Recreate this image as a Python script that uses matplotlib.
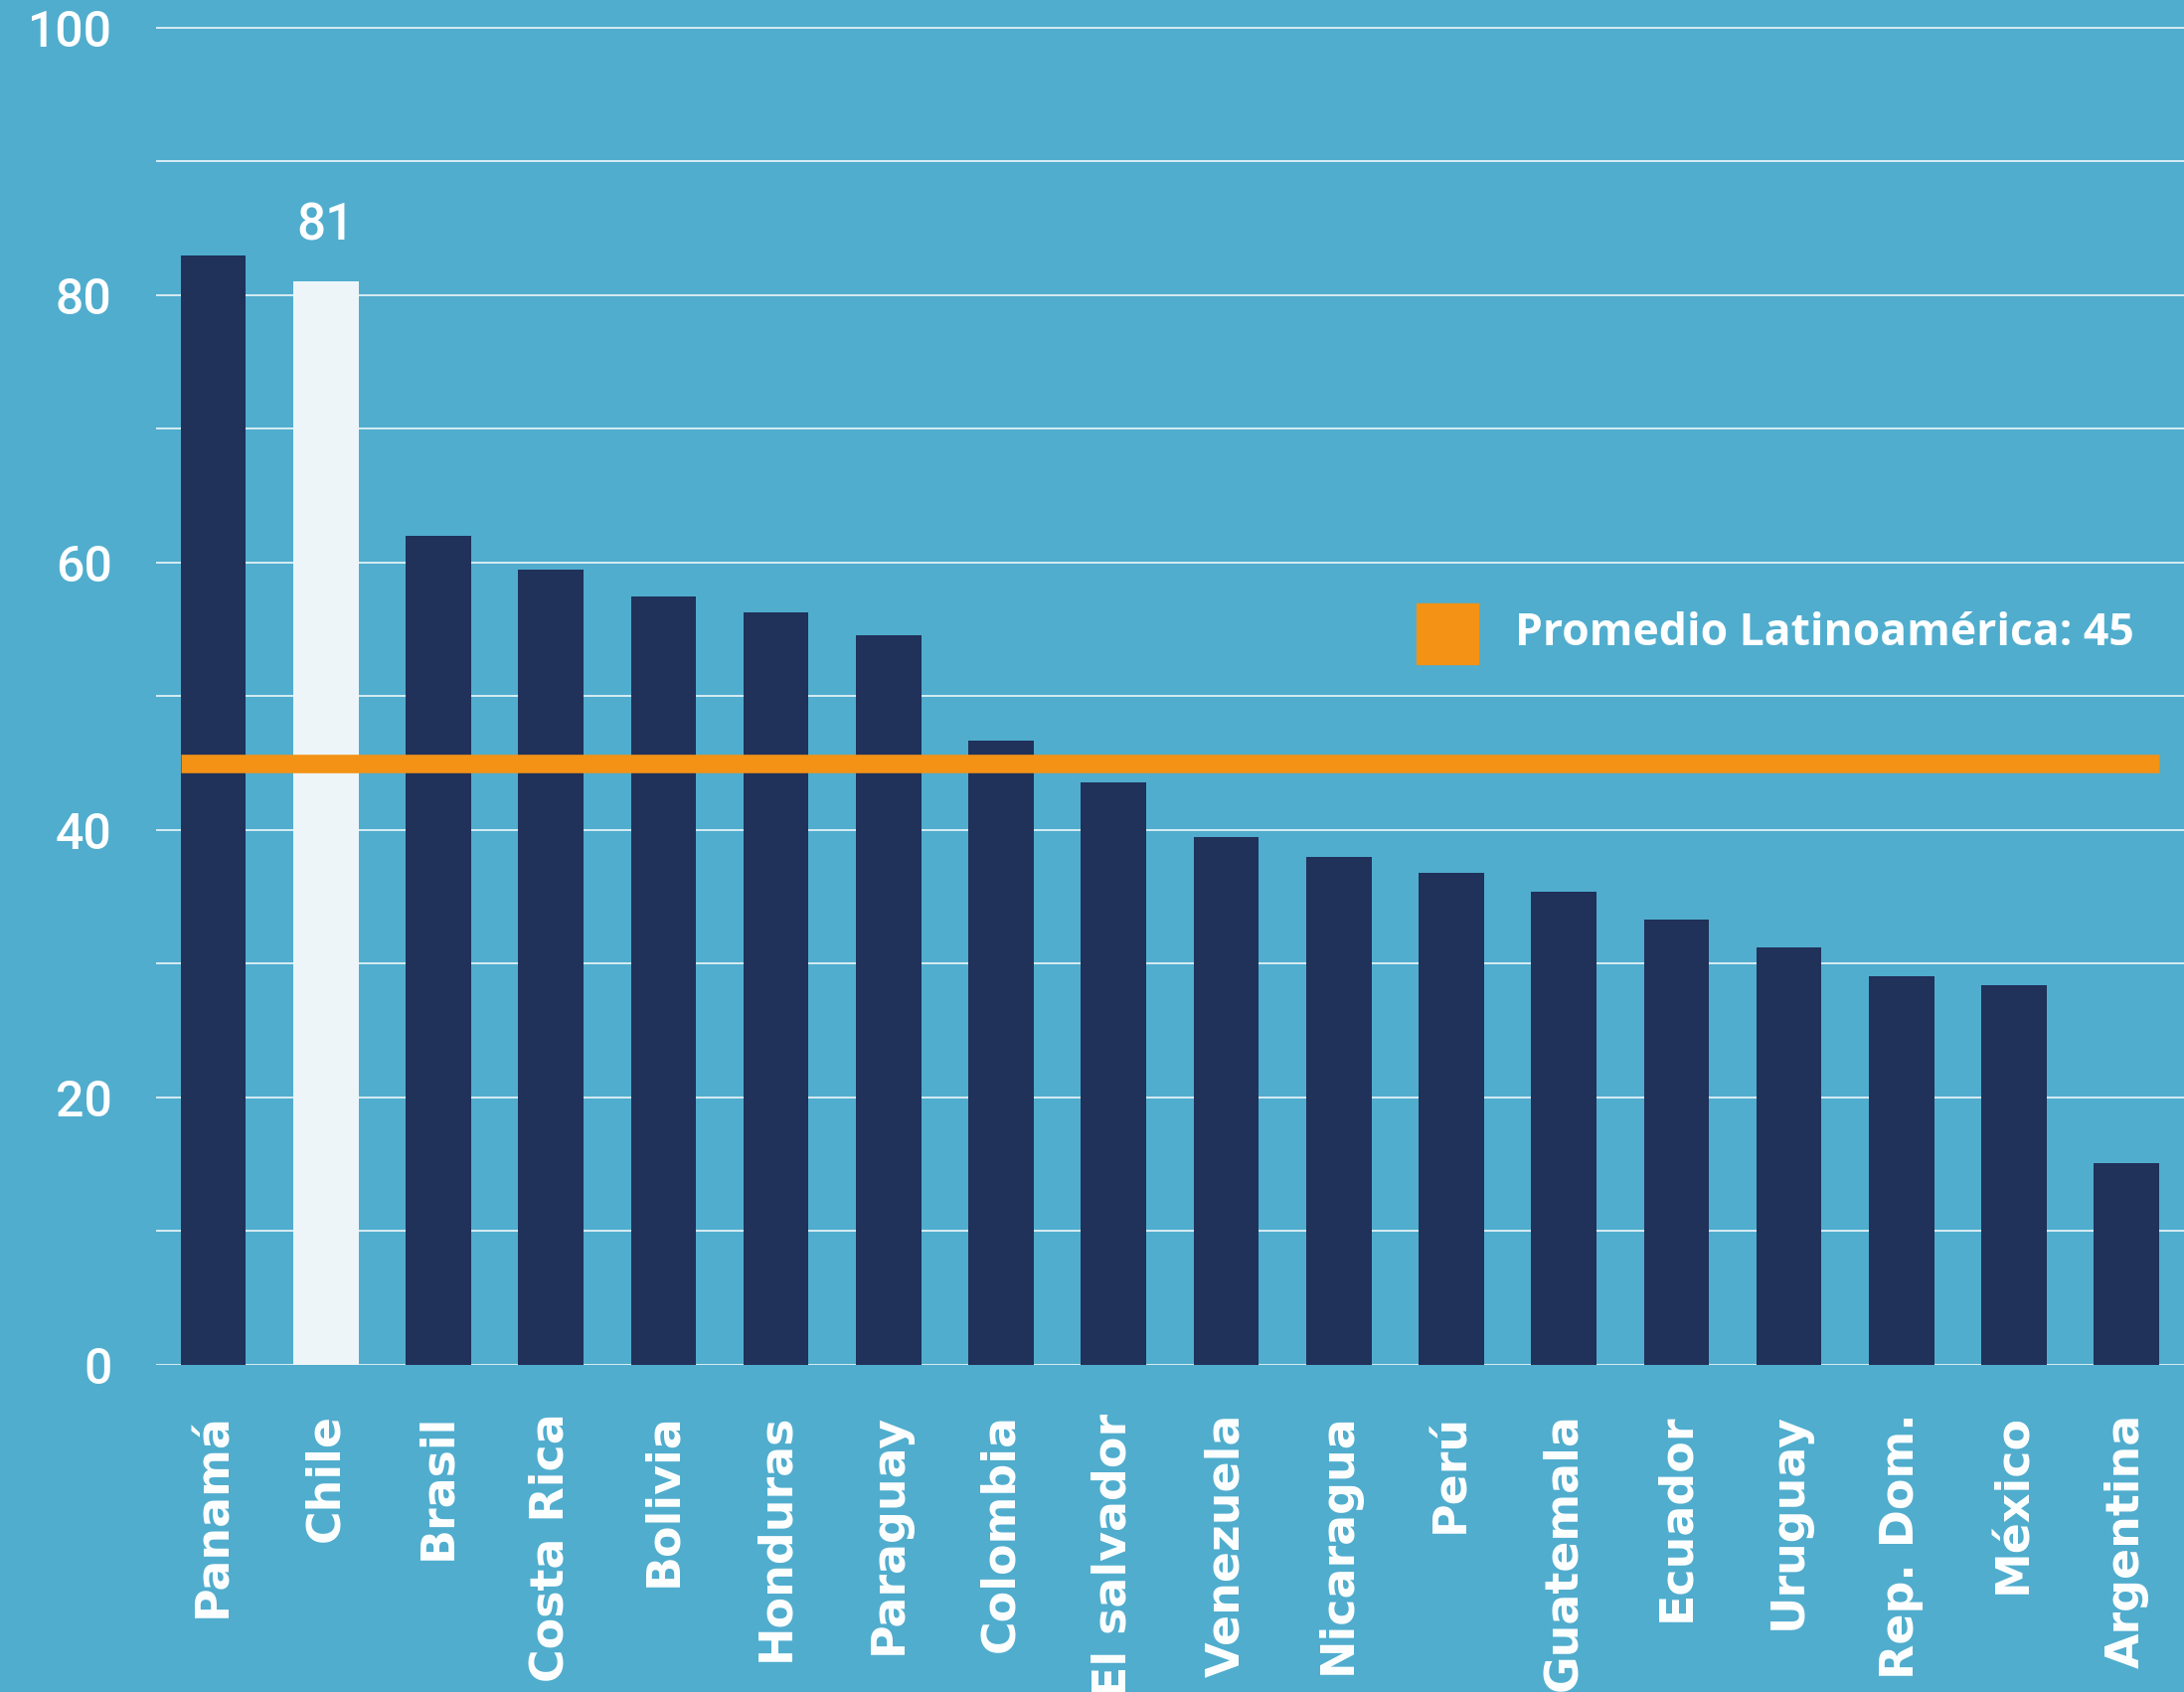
import matplotlib
matplotlib.use("Agg")
import matplotlib.pyplot as plt
from matplotlib.patches import Rectangle
from matplotlib.ticker import MultipleLocator

# datos
paises = ["Panamá", "Chile", "Brasil", "Costa Rica", "Bolivia", "Honduras",
          "Paraguay", "Colombia", "El salvador", "Venezuela", "Nicaragua",
          "Perú", "Guatemala", "Ecuador", "Uruguay", "Rep. Dom.", "México",
          "Argentina"]
valores = [83, 81, 62, 59.5, 57.5, 56.3, 54.6, 46.7, 43.6, 39.5, 38.0,
           36.8, 35.4, 33.3, 31.2, 29.1, 28.4, 15.1]
destacado = "Chile"
promedio = 45
etiqueta_promedio = "Promedio Latinoamérica: 45"
yticks = [0, 20, 40, 60, 80, 100]

FONDO = "#50ADCE"
AZUL = "#20315A"
BLANCO_BARRA = "#EDF5F8"
NARANJA = "#F39215"

fig = plt.figure(figsize=(21.97, 17.02), dpi=100, facecolor=FONDO)
ax = fig.add_axes([0.0715, 0.1933, 0.9285, 0.7982])
ax.set_facecolor(FONDO)

colores = [BLANCO_BARRA if p == destacado else AZUL for p in paises]
x = list(range(len(paises)))
ax.bar(x, valores, width=0.58, color=colores, zorder=2)

# linea del promedio
ax.hlines(promedio, -0.29, len(paises) - 1 + 0.29, color=NARANJA, lw=13.4, zorder=3)

# etiqueta de Chile
i = paises.index(destacado)
ax.annotate(f"{valores[i]:.0f}", xy=(i, valores[i]), xytext=(0, 30),
            textcoords="offset points", ha="center", va="baseline",
            fontsize=37, fontweight="medium", color="white", family="Roboto")

ax.set_xlim(-0.507, 17.51)
ax.set_ylim(0, 101)
ax.set_yticks(yticks)
ax.yaxis.set_minor_locator(MultipleLocator(10))
ax.grid(True, axis="y", which="both", color="white", lw=1.2, alpha=0.9)
ax.set_axisbelow(True)
for s in ax.spines.values():
    s.set_visible(False)

ax.tick_params(axis="y", which="both", length=0, pad=32, labelsize=36,
               labelcolor="white")
for t in ax.get_yticklabels():
    t.set_family("Roboto")
    t.set_fontweight("medium")

ax.set_xticks(x)
ax.set_xticklabels(paises, rotation=90, ha="center", va="top",
                   fontsize=33, fontweight="bold", color="white")
ax.tick_params(axis="x", length=0, pad=35)

# leyenda del promedio
fig.patches.append(Rectangle((0.6486, 0.6075), 0.0282, 0.0358,
                             transform=fig.transFigure, color=NARANJA))
fig.text(0.6937, 0.6254, etiqueta_promedio, ha="left", va="center",
         fontsize=32, fontweight="bold", color="white", family="Open Sans")

fig.savefig("out.png", dpi=100, facecolor=FONDO)
